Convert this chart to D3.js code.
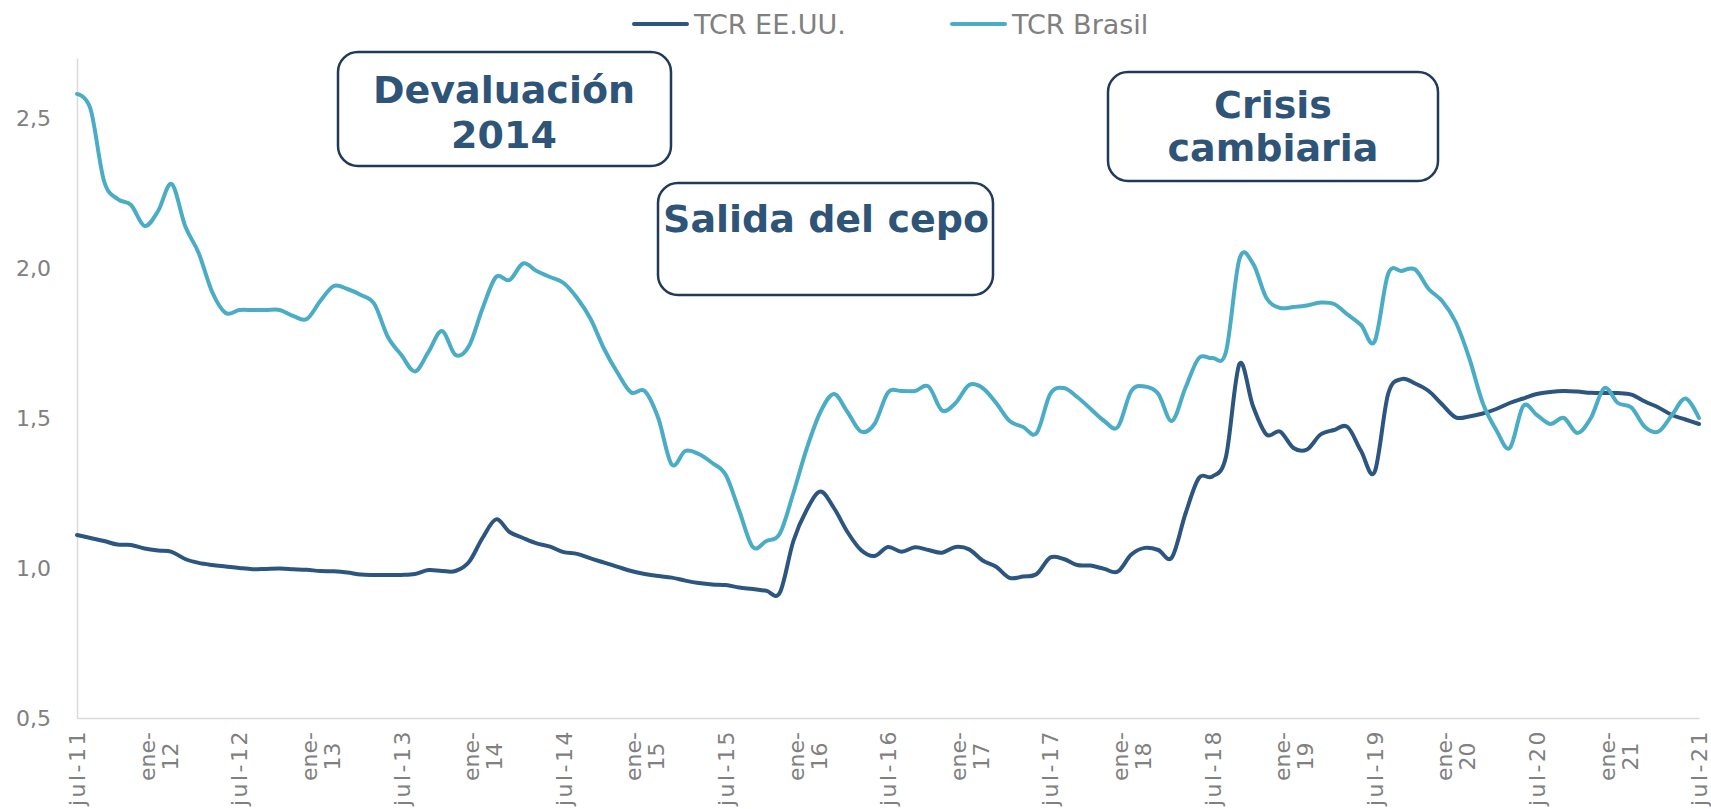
<!DOCTYPE html>
<html>
<head>
<meta charset="utf-8">
<script src="https://cdn.jsdelivr.net/npm/d3@7"></script>
<style>
  body { margin: 0; background: #fff; }
  text { font-family: Verdana, "DejaVu Sans", sans-serif; }
</style>
</head>
<body>
<div id="graph"></div>
<script>
// month names used for the categories (jul-11 ... jul-21)
const monthNames = ["ene","feb","mar","abr","may","jun","jul","ago","sep","oct","nov","dic"];
const categories = d3.range(121).map(i => {
  const m = (6 + i) % 12, yr = 11 + Math.floor((6 + i) / 12);
  return monthNames[m] + "-" + yr;
});
// every 6th category gets a label
const tickLabels = categories.filter((d, i) => i % 6 === 0);

const seriesNames = ["TCR EE.UU.", "TCR Brasil"];
const seriesColors = ["#2C5580", "#4BACC6"];

const tcrUS = [
  1.11, 1.10, 1.09, 1.078, 1.077, 1.065, 1.058, 1.054, 1.03, 1.017, 1.01, 1.005,
  1.00, 0.996, 0.997, 0.998, 0.996, 0.994, 0.99, 0.989, 0.985, 0.978, 0.977, 0.977,
  0.977, 0.98, 0.993, 0.99, 0.99, 1.02, 1.10, 1.162, 1.12, 1.10, 1.082, 1.071,
  1.053, 1.047, 1.032, 1.018, 1.004, 0.99, 0.98, 0.973, 0.968, 0.958, 0.95, 0.945,
  0.943, 0.935, 0.93, 0.924, 0.918, 1.09, 1.195, 1.255, 1.20, 1.12, 1.06, 1.04,
  1.07, 1.054, 1.069, 1.06, 1.051, 1.07, 1.062, 1.025, 1.004, 0.967, 0.972, 0.98,
  1.035, 1.03, 1.01, 1.008, 0.997, 0.988, 1.045, 1.067, 1.06, 1.035, 1.18, 1.30,
  1.305, 1.37, 1.68, 1.54, 1.445, 1.455, 1.40, 1.395, 1.445, 1.46, 1.47, 1.39,
  1.32, 1.58, 1.63, 1.615, 1.59, 1.545, 1.502, 1.505, 1.515, 1.53, 1.55, 1.565,
  1.58, 1.587, 1.59, 1.588, 1.584, 1.583, 1.583, 1.578, 1.555, 1.535, 1.51, 1.495,
  1.48
];

const tcrBrasil = [
  2.58, 2.53, 2.29, 2.23, 2.21, 2.14, 2.19, 2.28, 2.14, 2.05, 1.92, 1.85,
  1.86, 1.86, 1.86, 1.86, 1.84, 1.83, 1.89, 1.94, 1.93, 1.91, 1.88, 1.77,
  1.71, 1.655, 1.72, 1.79, 1.71, 1.74, 1.865, 1.97, 1.96, 2.015, 1.99, 1.97,
  1.95, 1.90, 1.83, 1.73, 1.65, 1.585, 1.59, 1.50, 1.345, 1.39, 1.38, 1.35,
  1.31, 1.19, 1.07, 1.09, 1.115, 1.25, 1.40, 1.52, 1.58, 1.52, 1.455, 1.48,
  1.585, 1.59, 1.59, 1.605, 1.525, 1.55, 1.61, 1.60, 1.55, 1.49, 1.47, 1.45,
  1.58, 1.60, 1.57, 1.53, 1.49, 1.47, 1.59, 1.605, 1.58, 1.49, 1.60, 1.70,
  1.70, 1.72, 2.03, 2.015, 1.90, 1.867, 1.87, 1.875, 1.885, 1.88, 1.845, 1.81,
  1.755, 1.98, 1.99, 1.995, 1.93, 1.89, 1.82, 1.70, 1.55, 1.46, 1.40, 1.54,
  1.51, 1.48, 1.50, 1.45, 1.50, 1.60, 1.55, 1.535, 1.47, 1.455, 1.51, 1.565,
  1.50
];

const yTicks = [0.5, 1.0, 1.5, 2.0, 2.5];

// annotation boxes
const notes = [
  {lines: ["Devaluación", "2014"], box: [338, 52, 333, 114], tx: 504, ty: [89, 134]},
  {lines: ["Salida del cepo"], box: [658, 183, 335, 112], tx: 826, ty: [218]},
  {lines: ["Crisis", "cambiaria"], box: [1108, 72, 330, 109], tx: 1273, ty: [104, 147]}
];

const W = 1711, H = 809;
const margin = {top: 58, right: 12, bottom: 91, left: 77},
    width = W - margin.left - margin.right,
    height = H - margin.top - margin.bottom;

const svg = d3.select("#graph")
  .append("svg")
    .attr("width", W)
    .attr("height", H)
    .style("background", "#fff");

const g = svg.append("g")
    .attr("transform", `translate(${margin.left},${margin.top})`);

const x = d3.scalePoint()
  .domain(categories)
  .range([0, width]);

const y = d3.scaleLinear()
  .domain([0.5, 2.7])
  .range([height, 0]);

// Y axis
const yAxis = g.append("g")
  .call(d3.axisLeft(y).tickValues(yTicks).tickSize(0).tickPadding(26)
    .tickFormat(d => d3.format(".1f")(d).replace(".", ",")));
yAxis.select(".domain").attr("stroke", "#d9d9d9").attr("stroke-width", 1.5);
yAxis.selectAll("text")
  .attr("fill", "#808080")
  .style("font-size", "22px");

// X axis
const xAxis = g.append("g")
  .attr("transform", `translate(0,${height})`)
  .call(d3.axisBottom(x).tickValues(tickLabels).tickSize(0).tickFormat(""));
xAxis.select(".domain").attr("stroke", "#d9d9d9").attr("stroke-width", 1.5);

xAxis.selectAll(".tick").each(function(d) {
  const t = d3.select(this).append("text")
    .attr("transform", "rotate(-90)")
    .attr("fill", "#808080")
    .style("font-size", "22px");
  if (d.startsWith("jul")) {
    t.attr("x", -11).attr("dy", "0.35em").attr("text-anchor", "end")
      .style("letter-spacing", "2.5px").text(d);
  } else {
    const parts = d.split("-");
    const a = t.append("tspan").attr("x", -14).attr("text-anchor", "end")
      .attr("dy", "-0.17em").text(parts[0] + "-");
    const len = a.node().getComputedTextLength();
    t.append("tspan").attr("x", -14 - len / 2).attr("text-anchor", "middle")
      .attr("y", 0).attr("dy", "0.87em").text(parts[1]);
  }
});

// lines
const line = d3.line()
  .x((d, i) => x(categories[i]))
  .y(d => y(d))
  .curve(d3.curveCardinal.tension(0));

[tcrUS, tcrBrasil].forEach((s, k) => {
  g.append("path")
    .datum(s)
    .attr("fill", "none")
    .attr("stroke", seriesColors[k])
    .attr("stroke-width", 4)
    .attr("stroke-linejoin", "round")
    .attr("stroke-linecap", "round")
    .attr("d", line);
});

// legend
const legendX = [634, 952];
seriesNames.forEach((name, k) => {
  const lg = svg.append("g").attr("transform", `translate(${legendX[k]},24)`);
  lg.append("line")
    .attr("x1", 0).attr("x2", 53)
    .attr("stroke", seriesColors[k])
    .attr("stroke-width", 4)
    .attr("stroke-linecap", "round");
  lg.append("text")
    .attr("x", 60).attr("dy", "0.36em")
    .attr("fill", "#808080")
    .style("font-size", "27px")
    .text(name);
});

// annotation boxes
notes.forEach(n => {
  svg.append("rect")
    .attr("x", n.box[0]).attr("y", n.box[1])
    .attr("width", n.box[2]).attr("height", n.box[3])
    .attr("rx", 20).attr("ry", 20)
    .attr("fill", "#fff")
    .attr("stroke", "#1F3A5A")
    .attr("stroke-width", 2.5);
  n.lines.forEach((l, i) => {
    svg.append("text")
      .attr("x", n.tx).attr("y", n.ty[i])
      .attr("dy", "0.36em")
      .attr("text-anchor", "middle")
      .attr("fill", "#2E5478")
      .style("font-size", "38px")
      .style("font-weight", "bold")
      .text(l);
  });
});
</script>
</body>
</html>
